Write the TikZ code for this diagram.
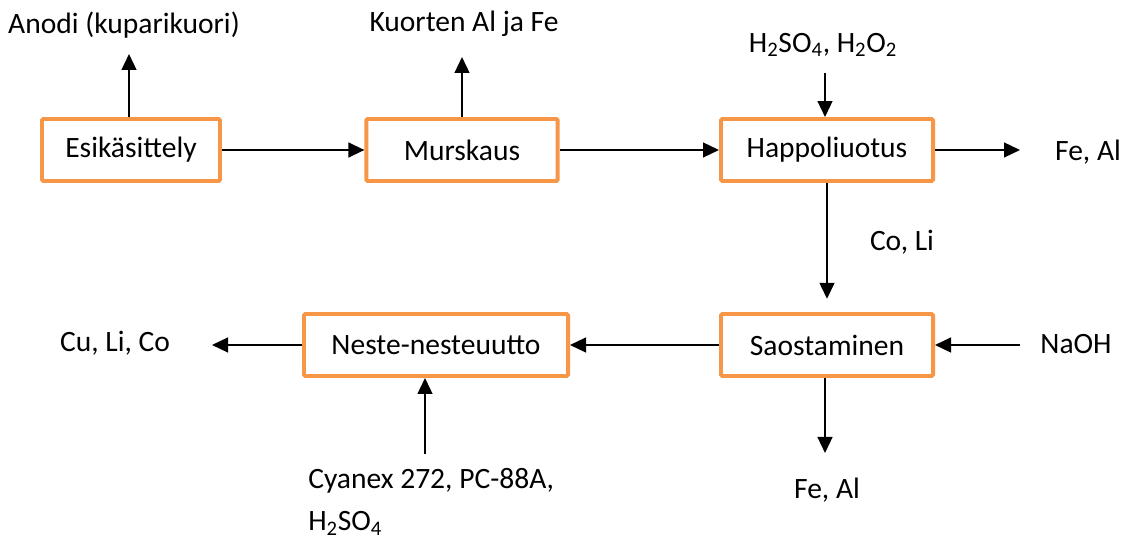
\documentclass[tikz,border=0pt]{standalone}
\usepackage{fontspec}
\setmainfont{Carlito}
\usetikzlibrary{arrows.meta}
\definecolor{boxorange}{RGB}{247,150,70}

\tikzset{
  procbox/.style={draw=boxorange, line width=2.8pt, rounded corners=1pt, fill=white,
    minimum height=1.55cm, inner sep=0pt, font=\fontsize{21}{30}\selectfont},
  lbl/.style={inner sep=0pt, font=\fontsize{21}{30}\selectfont},
  flow/.style={line width=1.4pt, -{Triangle[length=0.4cm, width=0.37cm]}}
}

\begin{document}
\begin{tikzpicture}[x=0.025cm, y=-0.025cm]
\useasboundingbox (0,0) rectangle (1130,543);

% process boxes
\node[procbox, minimum width=4.45cm] (esik) at (131,150) {Esikäsittely};
\node[procbox, minimum width=4.78cm] (murs) at (462,150) {Murskaus};
\node[procbox, minimum width=5.3cm] (happo) at (827,150) {Happoliuotus};
\node[procbox, minimum width=5.3cm] (saos) at (827,345) {Saostaminen};
\node[procbox, minimum width=6.6cm] (neste) at (436,345) {Neste-nesteuutto};

% streams in and out
\node[lbl] (anodi) at (124,25) {Anodi (kuparikuori)};
\node[lbl] (kuorten) at (464,24) {Kuorten Al ja Fe};
\node[lbl] (hapot) at (823,45) {H\textsubscript{2}SO\textsubscript{4}, H\textsubscript{2}O\textsubscript{2}};
\node[lbl] (feal1) at (1088,152) {Fe, Al};
\node[lbl] (coli) at (902,242) {Co, Li};
\node[lbl] (naoh) at (1076,344) {NaOH};
\node[lbl] (feal2) at (827,490) {Fe, Al};
\node[lbl] (culico) at (115,343) {Cu, Li, Co};
\node[lbl, anchor=west, align=left] (cyanex) at (308,502) {Cyanex 272, PC-88A,\\H\textsubscript{2}SO\textsubscript{4}};

% arrow ends next to the texts
\coordinate (anodiend) at (129,54);
\coordinate (kuortenend) at (462,57);
\coordinate (hapotstart) at (825,73);
\coordinate (feal1end) at (1020,150);
\coordinate (naohstart) at (1020,345);
\coordinate (feal2end) at (825,453);
\coordinate (culicoend) at (212,345);
\coordinate (cyanexstart) at (425,454);

% connectors
\draw[flow] (anodiend |- esik.north) -- (anodiend);
\draw[flow] (kuortenend |- murs.north) -- (kuortenend);
\draw[flow] (esik.east) -- (murs.west);
\draw[flow] (murs.east) -- (happo.west);
\draw[flow] (hapotstart) -- (hapotstart |- happo.north);
\draw[flow] (happo.east) -- (feal1end);
\draw[flow, shorten >=0.33cm] (happo.south) -- (saos.north);
\draw[flow] (naohstart) -- (saos.east);
\draw[flow] (saos.west) -- (neste.east);
\draw[flow] (neste.west) -- (culicoend);
\draw[flow] (feal2end |- saos.south) -- (feal2end);
\draw[flow] (cyanexstart) -- (cyanexstart |- neste.south);

\end{tikzpicture}
\end{document}
